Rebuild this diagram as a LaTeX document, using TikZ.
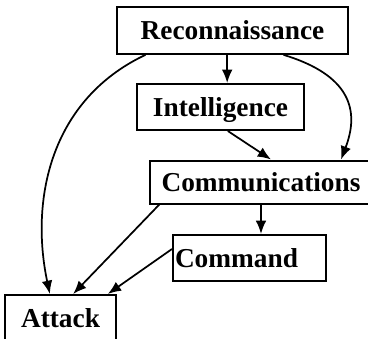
\documentclass[tikz,border=0pt]{standalone}
\usepackage{fontspec}
\setmainfont{Liberation Serif}
\usetikzlibrary{arrows.meta}

\begin{document}
\begin{tikzpicture}[x=0.75pt,y=0.75pt,yscale=-1,xscale=1,
	box/.style={draw, line width=1.5pt, inner sep=0pt, font=\fontsize{20.5}{24}\selectfont\bfseries, text height=13.5pt, text depth=0pt},
	arr/.style={line width=1.3pt, -{Latex[length=10pt,width=8pt]}}]
	\useasboundingbox (0,0) rectangle (368,339);
	\draw (232.5,30.5) node [box, minimum width=173pt, minimum height=35pt] (recon) {Reconnaissance};
	\draw (261,182) node [box, minimum width=166pt, minimum height=32.25pt] (comms) {Communications};
	\draw (220.5,107) node [box, minimum width=125pt, minimum height=34.5pt] (intel) {Intelligence};
	\draw (172,258) node [box, anchor=west, text width=112pt, inner xsep=1.5pt, align=left, minimum height=34.5pt] (command) {Command};
	\draw (60.5,318) node [box, minimum width=83pt, minimum height=34.5pt] (attack) {Attack};
	% arrows
	\draw [arr] ([xshift=-4pt]recon.south) -- ([xshift=-4pt]recon.south |- intel.north);
	\draw [arr] ([xshift=22pt]recon.south west) .. controls (50,100) and (30,200) .. ([xshift=-8pt]attack.north);
	\draw [arr] ([xshift=-49pt]recon.south east) .. controls (350,75) and (360,110) .. ([xshift=60pt]comms.north);
	\draw [arr] ([xshift=5.5pt]intel.south) -- ([xshift=7.5pt]comms.north);
	\draw [arr] (comms.south) -- (comms.south |- command.north);
	\draw [arr] ([xshift=7.5pt]comms.south west) -- ([xshift=9.5pt]attack.north);
	\draw [arr] ([yshift=-6.75pt]command.west) -- ([xshift=-6.75pt]attack.north east);
\end{tikzpicture}
\end{document}
